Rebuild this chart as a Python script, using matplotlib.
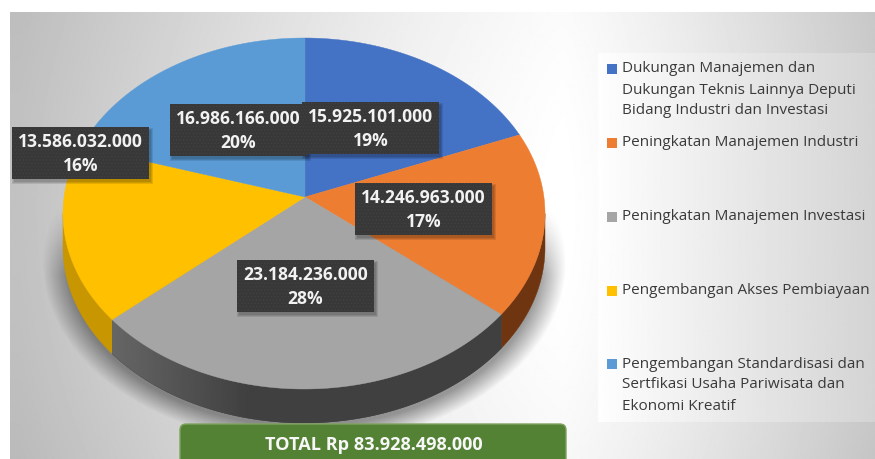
import numpy as np
import matplotlib
matplotlib.use('Agg')
import matplotlib.pyplot as plt
from matplotlib.patches import Polygon, Rectangle, FancyBboxPatch

plt.rcParams['font.family'] = ['Open Sans', 'DejaVu Sans']
plt.rcParams['hatch.linewidth'] = 0.5

# Data
values = [15925101000, 14246963000, 23184236000, 13586032000, 16986166000]
value_labels = ['15.925.101.000', '14.246.963.000', '23.184.236.000', '13.586.032.000', '16.986.166.000']
percent_labels = ['19%', '17%', '28%', '16%', '20%']
legend_labels = [
    ['Dukungan Manajemen dan', 'Dukungan Teknis Lainnya Deputi', 'Bidang Industri dan Investasi'],
    ['Peningkatan Manajemen Industri'],
    ['Peningkatan Manajemen Investasi'],
    ['Pengembangan Akses Pembiayaan'],
    ['Pengembangan Standardisasi dan', 'Sertfikasi Usaha Pariwisata dan', 'Ekonomi Kreatif'],
]
total_label = 'TOTAL Rp 83.928.498.000'

colors = ['#4472C4', '#ED7D31', '#A5A5A5', '#FFC000', '#5B9BD5']
side_colors = ['#2b4a80', '#6e3510', '#404040', '#c79600', '#3a6a96']

# Layout in picture pixels
W, H = 875, 459
CX, CY, RX, RY = 304, 213.5, 241, 175.5
APEX = (305, 197)
DEPTH = 34
label_boxes = [(302, 102), (355, 183), (237, 260), (12, 127), (170, 104)]
BOX_W, BOX_H = 137, 52
legend_y = [[69, 90, 111], [143], [217], [291], [364, 385, 406]]


def edge_param(theta):
    # where a slice edge leaves the apex and meets the tilted rim
    dx = RX * np.sin(theta)
    dy = -RY * np.cos(theta)
    ox, oy = (APEX[0] - CX) / RX, (APEX[1] - CY) / RY
    ux, uy = dx / RX, dy / RY
    a = ux**2 + uy**2
    b = 2 * (ox * ux + oy * uy)
    c = ox**2 + oy**2 - 1
    s = (-b + np.sqrt(b**2 - 4 * a * c)) / (2 * a)
    return np.arctan2(oy + s * uy, ox + s * ux)


def rim(t0, t1, shift=0):
    t = np.linspace(t0, t1, 120)
    return np.column_stack([CX + RX * np.cos(t), CY + shift + RY * np.sin(t)])


def soft_box(ax, x, y, w, h):
    for grow in [2, 1, 0]:
        ax.add_patch(Rectangle((x + 2 - grow, y + 3 - grow), w + 2 * grow, h + 2 * grow,
                               fc='black', ec='none', alpha=0.10, zorder=6))


fig = plt.figure(figsize=(W / 100, H / 100), dpi=100)
ax = fig.add_axes([0, 0, 1, 1])
ax.set_xlim(0, W)
ax.set_ylim(H, 0)
ax.axis('off')

# Background panel
xx, yy = np.meshgrid(np.arange(W), np.arange(H))
level = 1 - 0.24 * np.clip(np.abs(xx - 560) / 550, 0, 1)**1.3 - 0.03 * (np.abs(yy - 200) / 260)**2
level[xx > 560] = (1 - 0.20 * ((xx[xx > 560] - 560) / 315)**1.2 - 0.03 * (np.abs(yy[xx > 560] - 200) / 260)**2)
ax.imshow(level, cmap='gray', vmin=0, vmax=1, extent=(10, W, H, 12), aspect='auto', zorder=0)

# Legend panel
grad = np.linspace(1, 0.87, 256)[None, :]**1.3
ax.imshow(grad * 0.995, cmap='gray', vmin=0, vmax=1, extent=(598, W, 422, 53), aspect='auto', zorder=1)
ax.set_xlim(0, W)
ax.set_ylim(H, 0)

# Soft shadow under the pie
dist = np.hypot((xx - CX) / 262, (yy - 262) / 182)
alpha = np.clip((1.0 - dist) / 0.10, 0, 1) * np.clip((yy - 205) / 70, 0, 1) * 0.38
shadow = np.zeros((H, W, 4))
shadow[..., 3] = alpha
ax.imshow(shadow, extent=(0, W, H, 0), aspect='auto', zorder=2)
ax.set_xlim(0, W)
ax.set_ylim(H, 0)

# Slices
angles = np.concatenate([[0], np.cumsum(values) / np.sum(values) * 2 * np.pi])
params = []
for i in range(len(values)):
    t0 = edge_param(angles[i])
    t1 = edge_param(angles[i + 1])
    if t1 < t0:
        t1 += 2 * np.pi
    params.append((t0, t1))

# Side wall
for (t0, t1), side in zip(params, side_colors):
    a, b = max(t0, 0), min(t1, np.pi)
    if b <= a:
        continue
    pts = np.vstack([rim(a, b), rim(a, b, DEPTH)[::-1]])
    wall = Polygon(pts, closed=True, fc=side, ec=side, lw=0.3, zorder=3)
    ax.add_patch(wall)
    if side == '#404040':
        g = np.clip(np.interp(np.arange(256), [0, 90, 255], [0.40, 0.25, 0.25]), 0, 1)[None, :]
        im = ax.imshow(g, cmap='gray', vmin=0, vmax=1, extent=(pts[:, 0].min(), pts[:, 0].max(), H, 0),
                       aspect='auto', zorder=3.5)
        im.set_clip_path(wall)
        ax.set_xlim(0, W)
        ax.set_ylim(H, 0)

# Top surface
for (t0, t1), col in zip(params, colors):
    pts = np.vstack([[APEX], rim(t0, t1)])
    ax.add_patch(Polygon(pts, closed=True, fc=col, ec=col, lw=0.3, zorder=4))

# Data labels
for (x, y), val, pct in zip(label_boxes, value_labels, percent_labels):
    soft_box(ax, x, y, BOX_W, BOX_H)
    ax.add_patch(Rectangle((x, y), BOX_W, BOX_H, fc='#383838', ec='#424242', hatch='.....', lw=0, zorder=7))
    ax.text(x + BOX_W / 2, y + 15, val, color='#f2f2f2', fontsize=12.6, fontweight='bold',
            ha='center', va='center', zorder=8)
    ax.text(x + BOX_W / 2, y + 39, pct, color='#f2f2f2', fontsize=12.6, fontweight='bold',
            ha='center', va='center', zorder=8)

# Legend
for lines, ys, col in zip(legend_labels, legend_y, colors):
    ax.add_patch(Rectangle((607, ys[0] - 5), 10, 10, fc=col, ec='none', zorder=5))
    for line, y in zip(lines, ys):
        ax.text(622, y, line, color='#3a3a3a', fontsize=10.95, ha='left', va='center', zorder=5)

# Total box
ax.add_patch(FancyBboxPatch((184, 428), 378, 50, boxstyle='round,pad=4,rounding_size=6',
                            fc='#548235', ec='#7ea35f', lw=1, zorder=5))
ax.text(373.5, 445, total_label, color='#f7f7f7', fontsize=13.1, fontweight='bold',
        ha='center', va='center', zorder=6)

fig.savefig('out.png', dpi=100)
